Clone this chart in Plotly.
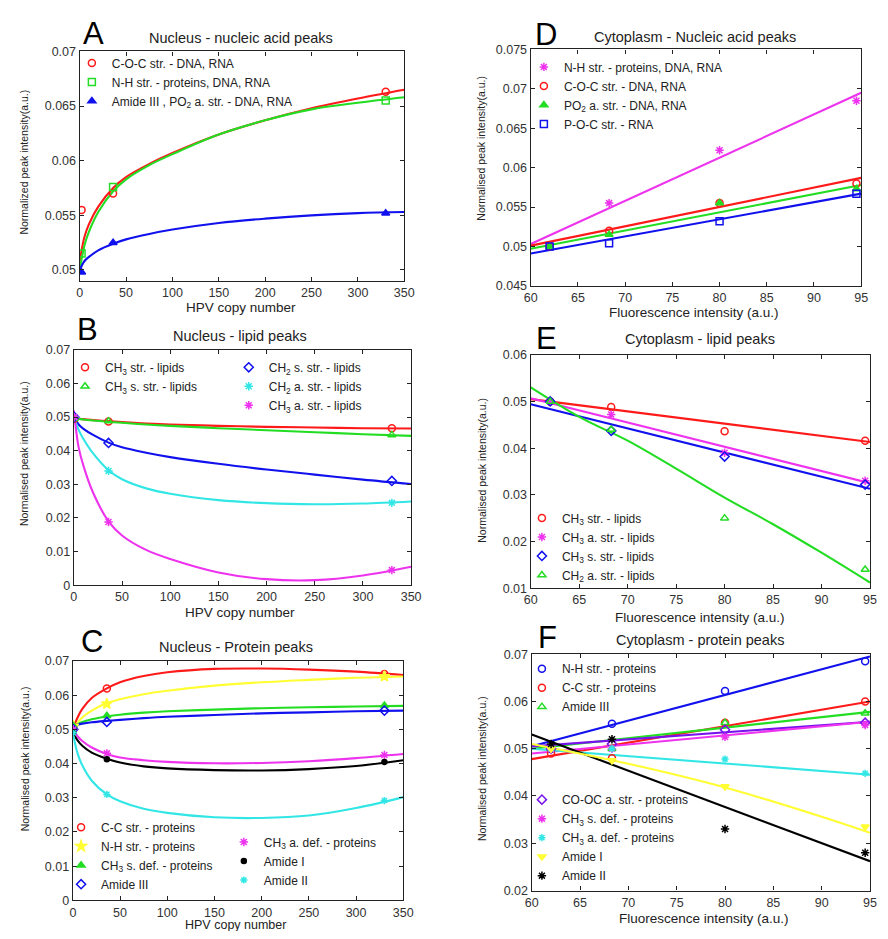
import plotly.graph_objects as go

# Page body has an 8px margin; the figure is sized so the page fits the 888x939 window exactly.
PAGE_W, PAGE_H, BODY = 888, 939, 8
W, H = PAGE_W - 2 * BODY, PAGE_H - 2 * BODY
def PX(x): return (x - BODY) / W
def PY(y): return 1 - (y - BODY) / H

# ---------------- DATA ----------------
# Panels A-C : HPV copy number
hpv_pts = [2, 36, 330]
hpv_grid = [0, 5, 10, 20, 36, 50, 75, 100, 150, 200, 250, 300, 350]

# A - Nucleus nucleic acid peaks
A_names = ["C-O-C str. - DNA, RNA", "N-H str. - proteins, DNA, RNA",
           "Amide III , PO<sub>2</sub> a. str. - DNA, RNA"]
A_pts = [[0.0555, 0.0570, 0.0663],
         [0.0515, 0.0576, 0.0655],
         [0.0498, 0.0525, 0.0552]]
A_fit = [[0.0508, 0.0530, 0.0542, 0.0558, 0.0575, 0.0585, 0.0597, 0.0607, 0.0624, 0.0637, 0.0648, 0.0657, 0.0665],
         [0.0500, 0.0522, 0.0535, 0.0553, 0.0572, 0.0583, 0.0596, 0.0606, 0.0624, 0.0637, 0.0647, 0.0653, 0.0658],
         [0.0500, 0.0508, 0.0512, 0.0518, 0.0524, 0.0528, 0.0533, 0.0537, 0.0543, 0.0547, 0.0550, 0.0552, 0.0553]]

# B - Nucleus lipid peaks
B_names = ["CH<sub>3</sub> str. - lipids", "CH<sub>3</sub> s. str. - lipids",
           "CH<sub>2</sub> s. str. - lipids", "CH<sub>2</sub> a. str. - lipids",
           "CH<sub>3</sub> a. str. - lipids"]
B_pts = [[0.0495, 0.0487, 0.0467],
         [0.0495, 0.0488, 0.0447],
         [0.0500, 0.0423, 0.0310],
         [0.0500, 0.0340, 0.0245],
         [0.0500, 0.0188, 0.0045]]
B_fit = [[0.0496, 0.0495, 0.0494, 0.0491, 0.0488, 0.0485, 0.0481, 0.0478, 0.0474, 0.0471, 0.0469, 0.0467, 0.0466],
         [0.0496, 0.0495, 0.0493, 0.0490, 0.0486, 0.0483, 0.0478, 0.0474, 0.0467, 0.0461, 0.0455, 0.0449, 0.0444],
         [0.0500, 0.0478, 0.0465, 0.0447, 0.0424, 0.0410, 0.0394, 0.0381, 0.0361, 0.0344, 0.0329, 0.0314, 0.0301],
         [0.0500, 0.0462, 0.0435, 0.0392, 0.0342, 0.0315, 0.0288, 0.0272, 0.0253, 0.0244, 0.0241, 0.0243, 0.0249],
         [0.0520, 0.0410, 0.0355, 0.0275, 0.0190, 0.0148, 0.0105, 0.0078, 0.0038, 0.0018, 0.0015, 0.0029, 0.0055]]

# C - Nucleus protein peaks
C_names = ["C-C str. - proteins", "N-H str. - proteins", "CH<sub>3</sub> s. def. - proteins",
           "Amide III", "CH<sub>3</sub> a. def. - proteins", "Amide I", "Amide II"]
C_pts = [[0.0510, 0.0620, 0.0662],
         [0.0510, 0.0575, 0.0655],
         [0.0510, 0.0540, 0.0570],
         [0.0500, 0.0522, 0.0555],
         [0.0500, 0.0430, 0.0425],
         [0.0490, 0.0413, 0.0405],
         [0.0490, 0.0310, 0.0292]]
C_fit = [[0.0500, 0.0535, 0.0560, 0.0592, 0.0620, 0.0638, 0.0656, 0.0667, 0.0677, 0.0678, 0.0675, 0.0669, 0.0659],
         [0.0500, 0.0520, 0.0535, 0.0555, 0.0577, 0.0588, 0.0603, 0.0613, 0.0628, 0.0638, 0.0645, 0.0651, 0.0655],
         [0.0505, 0.0515, 0.0522, 0.0530, 0.0538, 0.0543, 0.0549, 0.0553, 0.0558, 0.0562, 0.0565, 0.0567, 0.0569],
         [0.0510, 0.0514, 0.0517, 0.0521, 0.0525, 0.0528, 0.0533, 0.0537, 0.0542, 0.0547, 0.0550, 0.0553, 0.0555],
         [0.0500, 0.0480, 0.0466, 0.0447, 0.0428, 0.0418, 0.0410, 0.0405, 0.0401, 0.0402, 0.0407, 0.0416, 0.0428],
         [0.0490, 0.0468, 0.0452, 0.0432, 0.0414, 0.0403, 0.0392, 0.0386, 0.0381, 0.0380, 0.0384, 0.0393, 0.0410],
         [0.0490, 0.0430, 0.0395, 0.0350, 0.0310, 0.0290, 0.0268, 0.0256, 0.0243, 0.0241, 0.0248, 0.0270, 0.0302]]

# Panels D-F : Fluorescence intensity
fl_pts = [62, 68.3, 80, 94.5]
fl_ends = [60, 95]

D_names = ["N-H str. - proteins, DNA, RNA", "C-O-C str. - DNA, RNA",
           "PO<sub>2</sub> a. str. - DNA, RNA", "P-O-C str. - RNA"]
D_pts = [[0.0500, 0.0555, 0.0622, 0.0685],
         [0.0500, 0.0520, 0.0555, 0.0580],
         [0.0500, 0.0515, 0.0555, 0.0573],
         [0.0500, 0.0504, 0.0532, 0.0567]]
D_fit = [[0.0503, 0.0695], [0.0501, 0.0587], [0.0497, 0.0578], [0.0491, 0.0567]]

E_names = ["CH<sub>3</sub> str. - lipids", "CH<sub>3</sub> a. str. - lipids",
           "CH<sub>3</sub> s. str. - lipids", "CH<sub>2</sub> a. str. - lipids"]
E_pts = [[0.0500, 0.0488, 0.0436, 0.0416],
         [0.0500, 0.0472, 0.0390, 0.0330],
         [0.0500, 0.0437, 0.0382, 0.0322],
         [0.0500, 0.0440, 0.0250, 0.0140]]
E_fit = [[0.0505, 0.0413], [0.0507, 0.0325], [0.0494, 0.0313]]
E_curve_x = [60, 65, 70, 75, 80, 85, 90, 95]
E_curve_y = [0.0530, 0.0467, 0.0416, 0.0356, 0.0294, 0.0237, 0.0176, 0.0112]

F_names = ["N-H str. - proteins", "C-C str. - proteins", "Amide III",
           "CO-OC a. str. - proteins", "CH<sub>3</sub> s. def. - proteins",
           "CH<sub>3</sub> a. def. - proteins", "Amide I", "Amide II"]
F_pts = [[0.0500, 0.0553, 0.0622, 0.0685],
         [0.0490, 0.0480, 0.0555, 0.0600],
         [0.0500, 0.0500, 0.0555, 0.0575],
         [0.0500, 0.0510, 0.0540, 0.0555],
         [0.0500, 0.0500, 0.0525, 0.0550],
         [0.0500, 0.0500, 0.0478, 0.0448],
         [0.0500, 0.0475, 0.0420, 0.0335],
         [0.0510, 0.0520, 0.0330, 0.0280]]
F_fit = [[0.0505, 0.0695], [0.0478, 0.0600], [0.0500, 0.0578], [0.0505, 0.0557],
         [0.0490, 0.0557], [0.0500, 0.0445], None, [0.0530, 0.0262]]
F_curve_x = [60, 70, 80, 90, 95]
F_curve_y = [0.0510, 0.0468, 0.0418, 0.0356, 0.0322]

# tick labels
hpv_ticks = [0, 50, 100, 150, 200, 250, 300, 350]
fl_ticks = [60, 65, 70, 75, 80, 85, 90, 95]
A_yticks = [0.05, 0.055, 0.06, 0.065, 0.07]
A_ytext = ["0.05", "0.055", "0.06", "0.065", "0.07"]
BC_yticks = [0, 0.01, 0.02, 0.03, 0.04, 0.05, 0.06, 0.07]
BC_ytext = ["0", "0.01", "0.02", "0.03", "0.04", "0.05", "0.06", "0.07"]
D_yticks = [0.045, 0.05, 0.055, 0.06, 0.065, 0.07, 0.075]
D_ytext = ["0.045", "0.05", "0.055", "0.06", "0.065", "0.07", "0.075"]
E_yticks = [0.01, 0.02, 0.03, 0.04, 0.05, 0.06]
E_ytext = ["0.01", "0.02", "0.03", "0.04", "0.05", "0.06"]
F_yticks = [0.02, 0.03, 0.04, 0.05, 0.06, 0.07]
F_ytext = ["0.02", "0.03", "0.04", "0.05", "0.06", "0.07"]

# ---------------- STYLE ----------------
RED, GREEN, BLUE = "#ff1a1a", "#22dd22", "#1111ee"
CYAN, MAG, YEL, BLK, PUR = "#33e6e6", "#ee33ee", "#ffff33", "#000000", "#7711ee"
FONT = "Liberation Sans, Arial, sans-serif"

fig = go.Figure()

def add_line(n, x, y, color, shape="spline"):
    s = "" if n == 1 else str(n)
    fig.add_trace(go.Scatter(x=x, y=y, mode="lines", showlegend=False, hoverinfo="skip",
                             line=dict(color=color, width=2.1, shape=shape, smoothing=1.0),
                             xaxis="x" + s, yaxis="y" + s))

def add_pts(n, x, y, name, color, symbol, legend, size=7, lw=1.5):
    s = "" if n == 1 else str(n)
    fig.add_trace(go.Scatter(x=x, y=y, mode="markers", name=name, legend=legend,
                             marker=dict(color=color, symbol=symbol, size=size,
                                         line=dict(color=color, width=lw)),
                             xaxis="x" + s, yaxis="y" + s))

# Panel A (axis 1)
colsA = [RED, GREEN, BLUE]
symA = ["circle-open", "square-open", "triangle-up"]
for i in range(3):
    add_line(1, hpv_grid, A_fit[i], colsA[i])
for i in range(3):
    add_pts(1, hpv_pts, A_pts[i], A_names[i], colsA[i], symA[i], "legend")

# Panel D (axis 2)
colsD = [MAG, RED, GREEN, BLUE]
symD = ["asterisk-open", "circle-open", "triangle-up", "square-open"]
for i in range(4):
    add_line(2, fl_ends, D_fit[i], colsD[i], "linear")
for i in range(4):
    add_pts(2, fl_pts, D_pts[i], D_names[i], colsD[i], symD[i], "legend2")

# Panel B (axis 3)
colsB = [RED, GREEN, BLUE, CYAN, MAG]
symB = ["circle-open", "triangle-up-open", "diamond-open", "asterisk-open", "asterisk-open"]
legB = ["legend3", "legend3", "legend4", "legend4", "legend4"]
for i in range(5):
    add_line(3, hpv_grid, B_fit[i], colsB[i])
for i in range(5):
    add_pts(3, [0.5, 36, 330], B_pts[i], B_names[i], colsB[i], symB[i], legB[i])

# Panel E (axis 4)
colsE = [RED, MAG, BLUE, GREEN]
symE = ["circle-open", "asterisk-open", "diamond-open", "triangle-up-open"]
for i in range(3):
    add_line(4, fl_ends, E_fit[i], colsE[i], "linear")
add_line(4, E_curve_x, E_curve_y, GREEN)
for i in range(4):
    add_pts(4, fl_pts, E_pts[i], E_names[i], colsE[i], symE[i], "legend5")

# Panel C (axis 5)
colsC = [RED, YEL, GREEN, BLUE, MAG, BLK, CYAN]
symC = ["circle-open", "star", "triangle-up", "diamond-open", "asterisk-open", "circle", "asterisk-open"]
sizeC = [7, 8, 7, 7, 7, 5, 6]
legC = ["legend6"] * 4 + ["legend7"] * 3
for i in range(7):
    add_line(5, hpv_grid, C_fit[i], colsC[i])
for i in range(7):
    add_pts(5, [0.5, 36, 330], C_pts[i], C_names[i], colsC[i], symC[i], legC[i], size=sizeC[i])

# Panel F (axis 6)
colsF = [BLUE, RED, GREEN, PUR, MAG, CYAN, YEL, BLK]
symF = ["circle-open", "circle-open", "triangle-up-open", "diamond-open", "asterisk-open",
        "asterisk-open", "triangle-down", "asterisk-open"]
legF = ["legend8"] * 3 + ["legend9"] * 5
for i in range(8):
    if F_fit[i] is not None:
        add_line(6, fl_ends, F_fit[i], colsF[i], "linear")
add_line(6, F_curve_x, F_curve_y, YEL)
for i in range(8):
    add_pts(6, fl_pts, F_pts[i], F_names[i], colsF[i], symF[i], legF[i], size=7 if i != 5 else 6)

# ---------------- AXES ----------------
axes = [
    # n, (left, right, top, bottom) page px, xrange, yrange, xticks, yticks, ytext
    (1, (74, 405, 45, 278), [0, 350], [0.049, 0.07], hpv_ticks, A_yticks, A_ytext),
    (2, (534, 871, 43, 283), [60, 95], [0.045, 0.075], fl_ticks, D_yticks, D_ytext),
    (3, (68, 412, 348, 587), [0, 350], [0, 0.07], hpv_ticks, BC_yticks, BC_ytext),
    (4, (534, 881, 353, 590), [60, 95], [0.01, 0.06], fl_ticks, E_yticks, E_ytext),
    (5, (67, 404, 664, 907), [0, 350], [0, 0.07], hpv_ticks, BC_yticks, BC_ytext),
    (6, (535, 884, 657, 897), [60, 95], [0.02, 0.07], fl_ticks, F_yticks, F_ytext),
]
tickfont = dict(family=FONT, size=12.5, color="#333333")
for n, (l, r, t, b), xr, yr, xt, yt, ytx in axes:
    s = "" if n == 1 else str(n)
    common = dict(showline=True, linecolor="#222222", linewidth=1.4, mirror="ticks",
                  ticks="inside", ticklen=4, tickcolor="#222222", showgrid=False,
                  zeroline=False, tickfont=tickfont)
    fig.layout["xaxis" + s] = dict(domain=[PX(l), min(PX(r), 1)], range=xr, anchor="y" + s,
                                   tickvals=xt, ticktext=[str(v) for v in xt], **common)
    fig.layout["yaxis" + s] = dict(domain=[PY(b), PY(t)], range=yr, anchor="x" + s,
                                   tickvals=yt, ticktext=ytx, **common)

# ---------------- LEGENDS ----------------
def leg(xm, yrow):
    return dict(x=PX(xm - 25), y=PY(yrow - 15), xanchor="left", yanchor="top",
                bgcolor="rgba(0,0,0,0)", borderwidth=0, itemwidth=30, tracegroupgap=0,
                font=dict(family=FONT, size=12, color="#222222"), itemclick=False)

fig.update_layout(
    legend=leg(91, 57),
    legend2=leg(552, 61),
    legend3=leg(84, 366),
    legend4=leg(251, 366),
    legend5=leg(550, 519),
    legend6=leg(80, 833),
    legend7=leg(246, 848),
    legend8=leg(550, 672),
    legend9=leg(550, 805),
)

# ---------------- TEXT ----------------
ann = []
def text(x, y, s, size=10.5, angle=0, color="#222222"):
    ann.append(dict(x=PX(x), y=PY(y), xref="paper", yref="paper", text=s, showarrow=False,
                    xanchor="center", yanchor="middle", textangle=angle,
                    font=dict(family=FONT, size=size, color=color)))

# panel letters
for L, x, y in [("A", 88, 27), ("D", 550, 28), ("B", 82, 327), ("E", 550, 336), ("C", 87, 644), ("F", 551, 640)]:
    text(x, y, L, size=31, color="#000000")
# titles
text(238, 31, "Nucleus - nucleic acid peaks", size=14.5)
text(702, 30, "Cytoplasm - Nucleic acid peaks", size=14.5)
text(237, 334, "Nucleus - lipid peaks", size=14.5)
text(707, 337, "Cytoplasm - lipid peaks", size=14.5)
text(233, 650, "Nucleus - Protein peaks", size=14.5)
text(707, 643, "Cytoplasm - protein peaks", size=14.5)
# x titles
text(238, 305, "HPV copy number", size=13.5)
text(701, 310, "Fluorescence intensity (a.u.)", size=13.5)
text(237, 615, "HPV copy number", size=13.5)
text(707, 620, "Fluorescence intensity (a.u.)", size=13.5)
text(233, 932.5, "HPV copy number", size=12.5)
text(711, 925, "Fluorescence intensity (a.u.)", size=13.5)
# y titles
text(17, 157, "Normalized peak intensity(a.u.)", size=10.5, angle=-90)
text(483, 143, "Normalised peak intensity(a.u.)", size=10.5, angle=-90)
text(17, 453, "Normalised peak intensity(a.u.)", size=10.5, angle=-90)
text(484, 470, "Normalised peak intensity(a.u.)", size=10.5, angle=-90)
text(18, 763, "Normalised peak intensity(a.u.)", size=10.5, angle=-90)
text(485, 773, "Normalised peak intensity(a.u.)", size=10.5, angle=-90)

fig.update_layout(annotations=ann, width=W, height=H, margin=dict(l=0, r=0, t=0, b=0),
                  paper_bgcolor="white", plot_bgcolor="white",
                  font=dict(family=FONT))

fig.write_html("out.html")
